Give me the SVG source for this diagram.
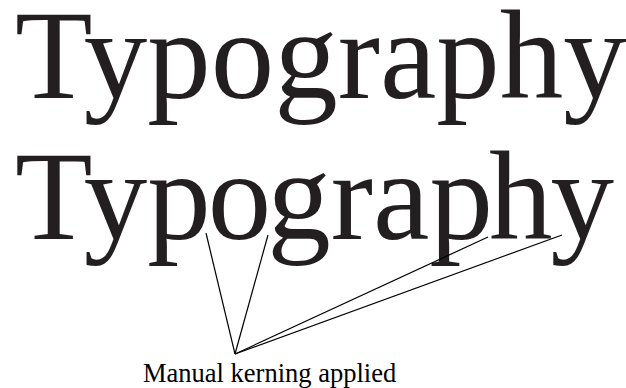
<svg xmlns="http://www.w3.org/2000/svg" width="626" height="388" viewBox="0 0 626 388">
<style>
.big{font-family:"Liberation Serif","Times New Roman",serif;font-size:127px;fill:#231f20}
.lbl{font-family:"Liberation Serif","Times New Roman",serif;font-size:26.5px;fill:#000}
.ln{stroke:#000;stroke-width:1.2;fill:none}
</style>
<rect width="626" height="388" fill="#fff"/>
<g id="word-normal"><text class="big" x="15" y="98">Typography</text></g>
<g id="word-kerned"><text class="big" x="15" y="239">Typ<tspan dx="-3">o</tspan><tspan dx="-4">g</tspan>rap<tspan dx="-4">h</tspan><tspan dx="-2">y</tspan></text></g>
<g id="connectors">
<line class="ln" x1="235" y1="354" x2="206" y2="233"/>
<line class="ln" x1="235" y1="354" x2="268" y2="235"/>
<line class="ln" x1="235" y1="354" x2="488" y2="237"/>
<line class="ln" x1="235" y1="354" x2="562" y2="235"/>
</g>
<g id="label"><text class="lbl" x="143" y="382">Manual kerning applied</text></g>
</svg>
